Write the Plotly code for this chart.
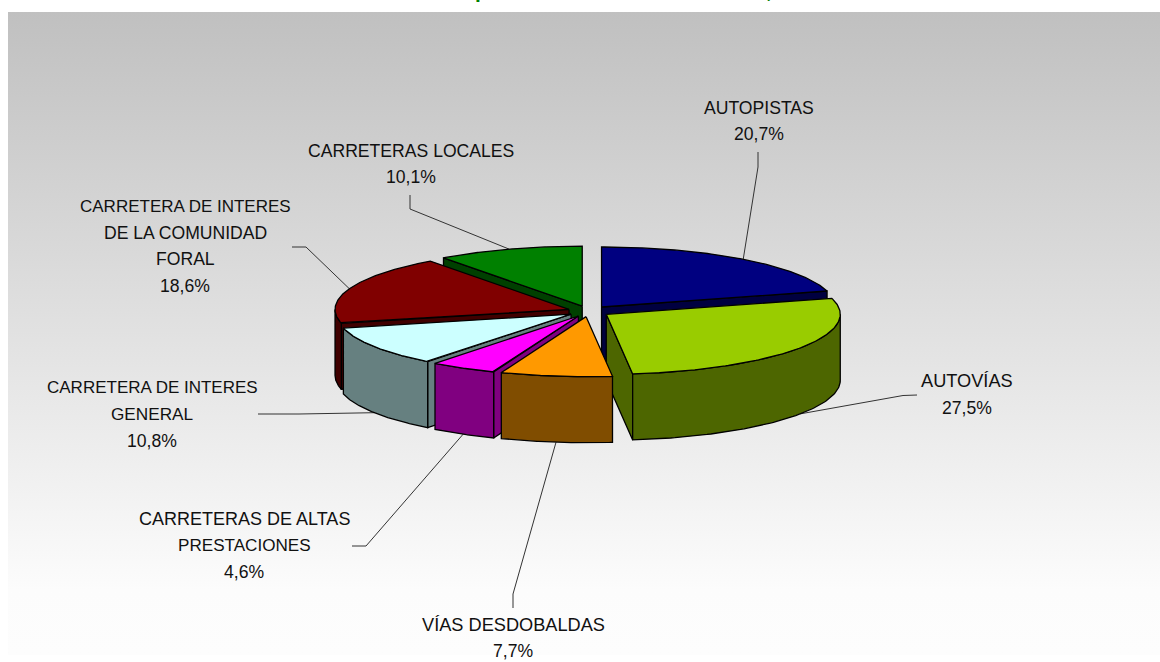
import numpy as np
import plotly.graph_objects as go

# ---- data ----
categories = ["AUTOPISTAS", "AUTOVÍAS", "VÍAS DESDOBALDAS", "CARRETERAS DE ALTAS PRESTACIONES",
              "CARRETERA DE INTERES GENERAL", "CARRETERA DE INTERES DE LA COMUNIDAD FORAL",
              "CARRETERAS LOCALES"]
values = [20.7, 27.5, 7.7, 4.6, 10.8, 18.6, 10.1]
percent_labels = ["20,7%", "27,5%", "7,7%", "4,6%", "10,8%", "18,6%", "10,1%"]
label_lines = [["AUTOPISTAS"], ["AUTOVÍAS"], ["VÍAS DESDOBALDAS"],
               ["CARRETERAS DE ALTAS", "PRESTACIONES"],
               ["CARRETERA DE INTERES", "GENERAL"],
               ["CARRETERA DE INTERES", "DE LA COMUNIDAD", "FORAL"],
               ["CARRETERAS LOCALES"]]
top_colors = ["#000080", "#99CC00", "#FF9900", "#FF00FF", "#CCFFFF", "#800000", "#008000"]
side_colors = ["#000040", "#4D6600", "#804D00", "#800080", "#668080", "#400000", "#004000"]

# ---- layout of the drawing ----
W, H = 1160, 662
CX, CY, A, B, DEPTH, EXPLODE = 588.8, 311.3, 234.0, 60.0, 66.0, 0.09
PAINT_ORDER = [0, 6, 5, 4, 3, 1, 2]
# label centre x, y of first line, line pitch; elbow start and elbow point of leader
LABEL_POS = [(759, 107.5), (967, 381), (513, 624.5), (244, 518.5), (152, 387.5), (185, 206), (411, 150.5)]
LEADER_ELBOW = [[(758, 152), (758, 167)], [(917, 395), (903, 395.5)], [(513, 608), (513, 594)],
                [(352, 546), (366, 546)], [(258, 414), (299, 414)], [(292, 247), (306, 247)],
                [(410, 195), (410, 209)]]
PITCH = 26.6
FONT_SIZE = 17.6
SIZE_TWEAKS = {"CARRETERA DE INTERES": 17.0, "CARRETERAS DE ALTAS": 18.0, "VÍAS DESDOBALDAS": 18.2,
               "PRESTACIONES": 17.1, "GENERAL": 17.2, "AUTOVÍAS": 18.2}

fig = go.Figure()


def add_poly(xs, ys, color):
    fig.add_trace(go.Scatter(x=xs, y=ys, mode="lines", fill="toself", fillcolor=color,
                             line=dict(color="black", width=1.3), hoverinfo="skip", showlegend=False))


# gradient background
fig.add_trace(go.Scatter(x=[8, W, W, 8, 8], y=[12, 12, 655, 655, 12], mode="lines", fill="toself",
                         line=dict(width=0), hoverinfo="skip", showlegend=False,
                         fillgradient=dict(type="vertical",
                                           colorscale=[[0, "#FDFDFD"], [0.1, "#FCFCFC"], [1, "#C0C0C0"]])))

# slice angles in degrees, clockwise from 12 o'clock
total = sum(values)
edges = np.concatenate([[0], np.cumsum(values)]) / total * 360.0
mids = (edges[:-1] + edges[1:]) / 2


def apex(i):
    m = np.radians(mids[i])
    return CX + EXPLODE * A * np.sin(m), CY - EXPLODE * B * np.cos(m)


def rim(i, deg):
    ax, ay = apex(i)
    t = np.radians(deg)
    return ax + A * np.sin(t), ay - B * np.cos(t)


# leader lines (below the pie), anchored on the middle of each slice's rim
for i in range(len(values)):
    rx, ry = rim(i, mids[i])
    if 90 < mids[i] < 270:
        ry = ry + DEPTH
    pts = LEADER_ELBOW[i] + [(rx, ry)]
    fig.add_trace(go.Scatter(x=[p[0] for p in pts], y=[p[1] for p in pts], mode="lines",
                             line=dict(color="#333333", width=1), hoverinfo="skip", showlegend=False))

# pie slices, back to front
for i in PAINT_ORDER:
    t1, t2 = edges[i], edges[i + 1]
    ax, ay = apex(i)
    # end radial face
    if np.sin(np.radians(t2)) > 0:
        rx, ry = rim(i, t2)
        add_poly([ax, rx, rx, ax, ax], [ay, ry, ry + DEPTH, ay + DEPTH, ay], side_colors[i])
    # start radial face
    if np.sin(np.radians(t1)) < 0:
        rx, ry = rim(i, t1)
        add_poly([ax, rx, rx, ax, ax], [ay, ry, ry + DEPTH, ay + DEPTH, ay], side_colors[i])
    # curved outer face
    lo, hi = max(t1, 90.0), min(t2, 270.0)
    if hi > lo:
        ts = np.linspace(lo, hi, 80)
        rx, ry = rim(i, ts)
        add_poly(np.concatenate([rx, rx[::-1], rx[:1]]),
                 np.concatenate([ry, ry[::-1] + DEPTH, ry[:1]]), side_colors[i])
    # top face
    ts = np.linspace(t1, t2, 120)
    rx, ry = rim(i, ts)
    add_poly(np.concatenate([[ax], rx, [ax]]), np.concatenate([[ay], ry, [ay]]), top_colors[i])

# labels
annotations = []
for i in range(len(values)):
    x, y = LABEL_POS[i]
    for k, line in enumerate(label_lines[i] + [percent_labels[i]]):
        annotations.append(dict(x=x, y=y + k * PITCH, xref="x", yref="y", text=line, showarrow=False,
                                xanchor="center", yanchor="middle",
                                font=dict(family="Liberation Sans", color="#111111",
                                          size=SIZE_TWEAKS.get(line, FONT_SIZE))))

# visible remains of the cropped title: only two descenders show at the top edge
for ch, x in (("<b>p</b>", 481), ("<b>,</b>", 769)):
    annotations.append(dict(x=x, y=1 + 9.3 / H, xref="x", yref="paper", text=ch, showarrow=False,
                            xanchor="center", yanchor="middle",
                            font=dict(family="Liberation Sans", size=21, color="#008000")))

fig.update_layout(width=W, height=H, margin=dict(l=0, r=0, t=0, b=0), paper_bgcolor="white",
                  plot_bgcolor="white", showlegend=False, annotations=annotations,
                  xaxis=dict(range=[0, W], visible=False, fixedrange=True),
                  yaxis=dict(range=[H, 0], visible=False, fixedrange=True))
fig.write_html("out.html", config={"displayModeBar": False},
               post_script="document.body.style.margin='0';document.documentElement.style.overflow='hidden';")
